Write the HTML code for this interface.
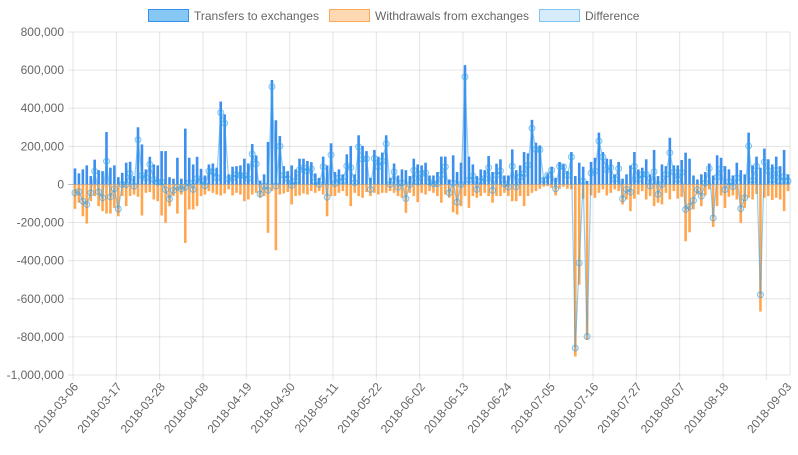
<!DOCTYPE html>
<html><head><meta charset="utf-8"><style>
body{margin:0;background:#fff;font-family:"Liberation Sans",sans-serif}
svg text{font-family:"Liberation Sans",sans-serif;fill:#666;font-size:12px}
</style></head><body>
<svg id="chart" width="798" height="450" xmlns="http://www.w3.org/2000/svg">
<g>
 <g><rect x="148.5" y="9.5" width="40" height="12" fill="rgba(54,162,235,0.6)" stroke="#368ff0"/><text x="194" y="20">Transfers to exchanges</text></g>
 <g><rect x="329.5" y="9.5" width="40" height="12" fill="rgba(255,159,64,0.4)" stroke="#ffa85a"/><text x="375" y="20">Withdrawals from exchanges</text></g>
 <g><rect x="539.5" y="9.5" width="40" height="12" fill="rgba(54,162,235,0.2)" stroke="rgba(54,162,235,0.6)"/><text x="585" y="20">Difference</text></g>
</g>
<g id="grid"></g>
<g id="bars"></g>
<g id="line"></g>
<g id="axes"></g>
</svg>
<script>
const categories=(function(){const a=[];const d=new Date(Date.UTC(2018,2,6));for(let i=0;i<182;i++){a.push(d.toISOString().slice(0,10));d.setUTCDate(d.getUTCDate()+1);}return a;})();
const transfers=[84,58,79,100,44,130,75,70,275,88,100,38,61,114,119,44,300,210,79,145,105,100,175,175,38,30,140,30,293,140,
105,145,82,47,105,110,88,435,368,53,93,96,100,135,110,212,152,20,53,223,548,337,254,96,70,100,79,135,135,123,117,
58,35,146,100,216,65,79,53,158,202,53,258,202,175,35,181,146,167,258,35,110,47,79,75,44,135,105,100,114,47,
47,65,146,146,26,153,65,114,626,146,105,44,79,75,149,65,109,132,47,47,184,75,100,170,163,339,219,205,35,58,93,
35,118,105,70,170,44,114,93,18,118,140,272,170,135,132,53,118,30,53,100,170,79,88,132,53,181,44,105,96,
245,100,
100,128,167,135,47,26,53,65,110,47,153,140,96,79,47,114,75,53,272,100,146,88,188,132,105,146,96,181,53];
const withdrawals=[128,96,167,205,88,61,114,140,153,153,123,167,61,114,61,53,65,163,44,40,79,88,163,202,114,61,153,53,307,131,
131,114,61,53,35,44,53,58,47,26,58,44,53,88,79,53,44,70,61,254,35,345,53,47,40,105,61,58,47,53,35,
44,35,53,167,61,61,44,35,61,114,44,61,70,40,61,44,53,44,44,35,44,61,70,149,44,61,93,44,53,35,
44,61,96,53,70,146,158,114,61,123,61,70,61,44,61,96,61,61,44,61,88,88,61,114,61,44,35,23,12,9,18,
58,23,12,23,26,903,526,75,816,58,70,44,26,58,44,26,35,105,79,140,75,53,35,79,61,114,96,105,44,
79,35,75,65,298,251,131,53,114,58,26,223,114,58,123,65,58,79,202,123,70,79,50,667,70,61,82,70,79,140,35];
const yTicks=[800,600,400,200,0,-200,-400,-600,-800,-1000];
const xTickIdx=[0,11,22,33,44,55,66,77,88,99,110,121,132,143,154,165,181];
const NS="http://www.w3.org/2000/svg";
const L=73,R=790,T=32,B=375,yMax=800,yMin=-1000;
const n=categories.length,step=(R-L)/n;
function X(i){return L+(i+0.5)*step;}
function Y(v){return T+(yMax-v)/(yMax-yMin)*(B-T);}
function mk(tag,at,parent){const e=document.createElementNS(NS,tag);for(const k in at)e.setAttribute(k,at[k]);parent.appendChild(e);return e;}
const grid=document.getElementById('grid'),bars=document.getElementById('bars'),line=document.getElementById('line'),axes=document.getElementById('axes');
function fmt(v){return (v*1000).toLocaleString('en-US');}
yTicks.forEach(v=>{const y=Y(v);
 const g=mk('line',{x1:L-5,x2:R,y1:y,y2:y,stroke:v===0?'rgba(0,0,0,0.25)':'rgba(0,0,0,0.1)','stroke-width':1},grid);
 
 
 const t=mk('text',{x:L-9,y:y+4,'text-anchor':'end'},axes);t.textContent=fmt(v);
 
 
});
for(let k=0;k*11<=n;k++){const x=L+k*11*step;
 const g=mk('line',{x1:x,x2:x,y1:T,y2:B+5,stroke:'rgba(0,0,0,0.1)'},grid);
 
 
}
mk('line',{x1:R,x2:R,y1:T,y2:B,stroke:'rgba(0,0,0,0.1)'},grid);
xTickIdx.forEach(i=>{const x=X(i);
 const t=mk('text',{x:0,y:0,'text-anchor':'end',transform:`translate(${x+4},${B+12}) rotate(-50)`},axes);t.textContent=categories[i];
 
 
});
const bw=2.6;
for(let i=0;i<n;i++){
 const y0=Y(0);
 const b1=mk('rect',{x:X(i)-bw/2,y:Y(transfers[i]),width:bw,height:Math.max(0,y0-Y(transfers[i])),fill:'#3b8fee'},bars);
 
 
 const b2=mk('rect',{x:X(i)-bw/2,y:y0,width:bw,height:Math.max(0,Y(-withdrawals[i])-y0),fill:'#ffa64f'},bars);
 
 
}
let d='';
for(let i=0;i<n;i++){d+=(i?'L':'M')+X(i).toFixed(2)+','+Y(transfers[i]-withdrawals[i]).toFixed(2);}
const p=mk('path',{d:d,fill:'none',stroke:'rgba(54,162,235,0.55)','stroke-width':1.2},line);


for(let i=0;i<n;i++){
 const c=mk('circle',{cx:X(i),cy:Y(transfers[i]-withdrawals[i]),r:3,fill:'rgba(54,162,235,0.15)',stroke:'rgba(54,162,235,0.6)','stroke-width':1},line);
 
 
}
</script>
</body></html>
